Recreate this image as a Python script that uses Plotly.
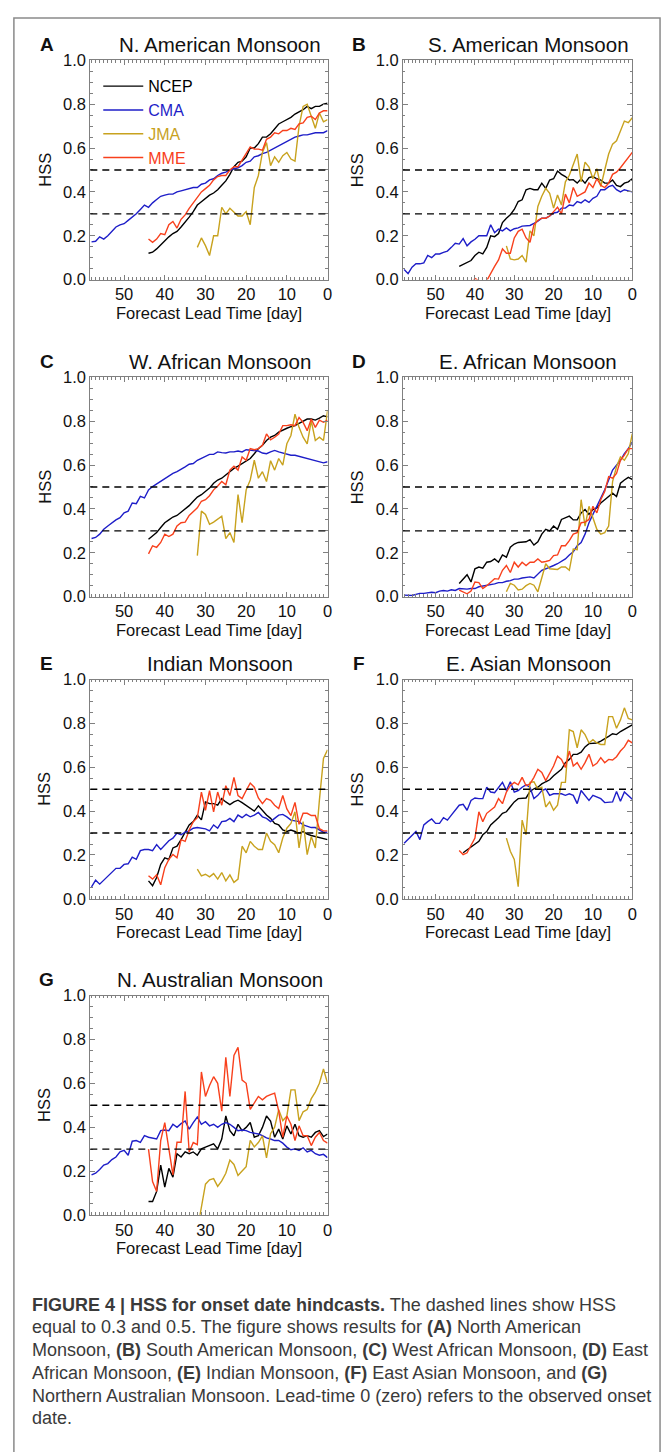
import plotly.graph_objects as go

W, H = 670, 1452

# HSS of onset-date hindcasts, listed from the longest lead (left) to lead 0 (right).
# CMA starts at lead 58, NCEP/MME at lead 44 (NCEP at 43 for E. Asia), JMA at lead 32.
NAM_NCEP = [0.12, 0.125, 0.14, 0.16, 0.18, 0.195, 0.21, 0.22, 0.24, 0.26, 0.285, 0.31, 0.34, 0.355, 0.37,
            0.385, 0.395, 0.41, 0.43, 0.45, 0.48, 0.515, 0.535, 0.54, 0.56, 0.60, 0.60, 0.62, 0.65, 0.65,
            0.665, 0.69, 0.71, 0.72, 0.73, 0.74, 0.755, 0.765, 0.775, 0.79, 0.78, 0.79, 0.79, 0.80, 0.805]
NAM_CMA = [0.172, 0.175, 0.195, 0.185, 0.20, 0.22, 0.24, 0.25, 0.255, 0.27, 0.285, 0.30, 0.32, 0.34, 0.33,
           0.35, 0.365, 0.38, 0.385, 0.39, 0.39, 0.40, 0.405, 0.41, 0.415, 0.42, 0.42, 0.435, 0.44, 0.455,
           0.46, 0.475, 0.485, 0.49, 0.50, 0.505, 0.51, 0.52, 0.535, 0.54, 0.56, 0.565, 0.575, 0.58, 0.59,
           0.60, 0.61, 0.62, 0.63, 0.64, 0.65, 0.655, 0.66, 0.66, 0.665, 0.67, 0.67, 0.67, 0.68]
NAM_JMA = [0.147, 0.19, 0.155, 0.11, 0.20, 0.20, 0.33, 0.30, 0.325, 0.305, 0.29, 0.29, 0.31, 0.25, 0.42,
           0.475, 0.58, 0.625, 0.52, 0.56, 0.535, 0.565, 0.58, 0.55, 0.54, 0.70, 0.79, 0.80, 0.74, 0.69,
           0.76, 0.72, 0.73]
NAM_MME = [0.185, 0.17, 0.185, 0.21, 0.205, 0.25, 0.265, 0.235, 0.275, 0.295, 0.325, 0.35, 0.38, 0.40,
           0.415, 0.43, 0.455, 0.47, 0.475, 0.475, 0.50, 0.515, 0.515, 0.545, 0.575, 0.605, 0.595, 0.595,
           0.59, 0.64, 0.65, 0.67, 0.665, 0.68, 0.68, 0.69, 0.685, 0.71, 0.715, 0.74, 0.745, 0.73, 0.76,
           0.77, 0.77]

SAM_NCEP = [0.06, 0.07, 0.08, 0.087, 0.11, 0.125, 0.117, 0.147, 0.20, 0.196, 0.21, 0.26, 0.28, 0.296, 0.32,
            0.356, 0.364, 0.41, 0.416, 0.41, 0.41, 0.44, 0.416, 0.454, 0.46, 0.495, 0.48, 0.47, 0.454,
            0.456, 0.44, 0.46, 0.44, 0.465, 0.47, 0.46, 0.454, 0.44, 0.44, 0.454, 0.43, 0.424, 0.44,
            0.446, 0.46]
SAM_CMA = [0.046, 0.027, 0.057, 0.072, 0.072, 0.076, 0.11, 0.10, 0.117, 0.117, 0.124, 0.13, 0.147, 0.166,
           0.162, 0.187, 0.154, 0.172, 0.184, 0.20, 0.20, 0.20, 0.25, 0.214, 0.23, 0.222, 0.236, 0.222,
           0.232, 0.236, 0.244, 0.244, 0.247, 0.256, 0.266, 0.28, 0.28, 0.29, 0.304, 0.307, 0.326, 0.326,
           0.34, 0.337, 0.356, 0.35, 0.364, 0.352, 0.371, 0.38, 0.41, 0.41, 0.424, 0.43, 0.41, 0.40, 0.41,
           0.405, 0.40]
SAM_JMA = [0.154, 0.094, 0.09, 0.094, 0.11, 0.08, 0.222, 0.20, 0.334, 0.38, 0.416, 0.394, 0.326, 0.386,
           0.34, 0.446, 0.476, 0.528, 0.573, 0.446, 0.536, 0.513, 0.46, 0.506, 0.424, 0.50, 0.573, 0.618,
           0.633, 0.678, 0.723, 0.716, 0.738]
SAM_MME = [-0.06, -0.05, -0.04, -0.02, 0.005, -0.005, -0.04, -0.005, 0.03, 0.06, 0.09, 0.14, 0.12, 0.12,
           0.19, 0.22, 0.23, 0.19, 0.17, 0.25, 0.27, 0.28, 0.28, 0.29, 0.31, 0.33, 0.30, 0.39, 0.35, 0.42,
           0.38, 0.39, 0.40, 0.44, 0.42, 0.46, 0.43, 0.42, 0.44, 0.48, 0.49, 0.51, 0.535, 0.555, 0.58]

WAF_NCEP = [0.262, 0.277, 0.292, 0.315, 0.337, 0.35, 0.363, 0.37, 0.385, 0.40, 0.415, 0.435, 0.454, 0.465,
            0.48, 0.495, 0.517, 0.532, 0.54, 0.555, 0.57, 0.585, 0.595, 0.607, 0.615, 0.63, 0.652, 0.675,
            0.69, 0.712, 0.727, 0.735, 0.75, 0.76, 0.768, 0.775, 0.78, 0.79, 0.80, 0.81, 0.81, 0.805,
            0.814, 0.825, 0.82]
WAF_CMA = [0.265, 0.27, 0.285, 0.307, 0.322, 0.337, 0.35, 0.36, 0.382, 0.39, 0.427, 0.424, 0.457, 0.45,
           0.487, 0.502, 0.514, 0.525, 0.535, 0.547, 0.562, 0.57, 0.58, 0.592, 0.604, 0.607, 0.622, 0.63,
           0.64, 0.649, 0.649, 0.66, 0.657, 0.655, 0.66, 0.66, 0.664, 0.66, 0.67, 0.667, 0.664, 0.664,
           0.655, 0.652, 0.66, 0.667, 0.66, 0.655, 0.649, 0.645, 0.645, 0.64, 0.634, 0.63, 0.625, 0.622,
           0.615, 0.61, 0.615]
WAF_JMA = [0.187, 0.39, 0.375, 0.33, 0.34, 0.352, 0.367, 0.265, 0.292, 0.247, 0.465, 0.337, 0.487, 0.532,
           0.622, 0.54, 0.57, 0.525, 0.62, 0.577, 0.63, 0.60, 0.697, 0.735, 0.832, 0.772, 0.727, 0.697,
           0.802, 0.712, 0.727, 0.712, 0.847]
WAF_MME = [0.195, 0.232, 0.225, 0.247, 0.285, 0.274, 0.285, 0.322, 0.337, 0.34, 0.37, 0.39, 0.405, 0.435,
           0.442, 0.46, 0.487, 0.505, 0.525, 0.51, 0.577, 0.595, 0.577, 0.637, 0.622, 0.675, 0.67, 0.675,
           0.69, 0.742, 0.715, 0.727, 0.742, 0.78, 0.78, 0.784, 0.78, 0.817, 0.795, 0.757, 0.81, 0.772,
           0.805, 0.795, 0.805]

EAF_NCEP = [0.06, 0.082, 0.10, 0.067, 0.127, 0.135, 0.13, 0.157, 0.16, 0.172, 0.157, 0.19, 0.18, 0.225,
            0.24, 0.247, 0.25, 0.25, 0.26, 0.235, 0.25, 0.285, 0.307, 0.30, 0.322, 0.307, 0.352, 0.36,
            0.367, 0.35, 0.35, 0.382, 0.397, 0.375, 0.397, 0.405, 0.427, 0.442, 0.457, 0.472, 0.457,
            0.517, 0.532, 0.544, 0.535]
EAF_CMA = [0.007, 0.007, 0.005, 0.01, 0.015, 0.015, 0.018, 0.02, 0.018, 0.025, 0.028, 0.025, 0.031, 0.028,
           0.037, 0.034, 0.034, 0.037, 0.037, 0.045, 0.048, 0.05, 0.055, 0.058, 0.064, 0.064, 0.07, 0.073,
           0.08, 0.08, 0.085, 0.088, 0.09, 0.085, 0.105, 0.12, 0.127, 0.133, 0.142, 0.15, 0.16, 0.172,
           0.19, 0.205, 0.232, 0.247, 0.285, 0.337, 0.375, 0.412, 0.45, 0.487, 0.532, 0.577, 0.60, 0.622,
           0.652, 0.675, 0.705]
EAF_JMA = [0.022, 0.06, 0.052, 0.03, 0.034, 0.05, 0.06, 0.052, 0.022, 0.082, 0.15, 0.127, 0.124, 0.124,
           0.135, 0.135, 0.12, 0.217, 0.214, 0.442, 0.322, 0.412, 0.36, 0.307, 0.285, 0.292, 0.322, 0.525,
           0.592, 0.637, 0.622, 0.652, 0.742]
EAF_MME = [0.03, 0.02, 0.013, 0.025, 0.067, 0.064, 0.037, 0.05, 0.064, 0.082, 0.08, 0.12, 0.142, 0.11,
           0.157, 0.135, 0.157, 0.142, 0.157, 0.157, 0.172, 0.157, 0.16, 0.165, 0.187, 0.19, 0.232, 0.232,
           0.255, 0.285, 0.292, 0.337, 0.34, 0.352, 0.412, 0.382, 0.442, 0.48, 0.547, 0.54, 0.562, 0.622,
           0.645, 0.675, 0.675]

IND_NCEP = [0.082, 0.06, 0.097, 0.157, 0.187, 0.18, 0.232, 0.24, 0.27, 0.307, 0.337, 0.352, 0.382, 0.36,
            0.442, 0.434, 0.434, 0.427, 0.457, 0.442, 0.43, 0.442, 0.45, 0.439, 0.427, 0.412, 0.40, 0.424,
            0.404, 0.382, 0.367, 0.344, 0.337, 0.314, 0.307, 0.314, 0.307, 0.30, 0.307, 0.295, 0.289,
            0.284, 0.28, 0.277, 0.27]
IND_CMA = [0.055, 0.085, 0.067, 0.085, 0.105, 0.12, 0.139, 0.139, 0.157, 0.16, 0.19, 0.18, 0.22, 0.225,
           0.225, 0.22, 0.247, 0.225, 0.247, 0.265, 0.277, 0.30, 0.292, 0.304, 0.31, 0.322, 0.325, 0.322,
           0.319, 0.31, 0.337, 0.322, 0.352, 0.355, 0.367, 0.352, 0.382, 0.37, 0.385, 0.374, 0.382, 0.394,
           0.374, 0.367, 0.352, 0.367, 0.382, 0.385, 0.374, 0.359, 0.355, 0.352, 0.337, 0.33, 0.325, 0.325,
           0.314, 0.304, 0.304]
IND_JMA = [0.135, 0.105, 0.112, 0.10, 0.115, 0.09, 0.12, 0.082, 0.109, 0.075, 0.09, 0.24, 0.21, 0.262,
           0.24, 0.225, 0.225, 0.30, 0.262, 0.247, 0.21, 0.277, 0.322, 0.344, 0.397, 0.232, 0.352, 0.202,
           0.284, 0.232, 0.45, 0.64, 0.68]
IND_MME = [0.105, 0.09, 0.11, 0.064, 0.142, 0.18, 0.202, 0.187, 0.27, 0.262, 0.314, 0.352, 0.37, 0.487,
           0.404, 0.494, 0.397, 0.487, 0.427, 0.516, 0.471, 0.554, 0.471, 0.457, 0.494, 0.528, 0.509, 0.46,
           0.434, 0.457, 0.449, 0.427, 0.412, 0.471, 0.41, 0.38, 0.44, 0.34, 0.39, 0.39, 0.38, 0.38, 0.32,
           0.31, 0.31]

EAS_NCEP = [0.21, 0.222, 0.235, 0.247, 0.262, 0.292, 0.307, 0.337, 0.352, 0.37, 0.39, 0.397, 0.42, 0.442,
            0.457, 0.457, 0.46, 0.49, 0.502, 0.509, 0.524, 0.534, 0.543, 0.561, 0.576, 0.591, 0.621, 0.636,
            0.659, 0.659, 0.669, 0.693, 0.708, 0.711, 0.711, 0.719, 0.729, 0.741, 0.753, 0.749, 0.763,
            0.774, 0.786, 0.793]
EAS_CMA = [0.254, 0.272, 0.292, 0.307, 0.27, 0.337, 0.352, 0.364, 0.344, 0.344, 0.37, 0.359, 0.382, 0.404,
           0.427, 0.431, 0.404, 0.449, 0.46, 0.457, 0.457, 0.509, 0.487, 0.484, 0.509, 0.531, 0.494, 0.534,
           0.487, 0.494, 0.509, 0.52, 0.509, 0.457, 0.472, 0.494, 0.501, 0.472, 0.479, 0.479, 0.479, 0.472,
           0.479, 0.472, 0.434, 0.494, 0.472, 0.449, 0.472, 0.464, 0.457, 0.439, 0.439, 0.442, 0.49, 0.445,
           0.487, 0.469, 0.454]
EAS_JMA = [0.277, 0.217, 0.18, 0.055, 0.359, 0.292, 0.531, 0.534, 0.501, 0.509, 0.419, 0.442, 0.404, 0.427,
           0.531, 0.531, 0.771, 0.763, 0.689, 0.771, 0.749, 0.711, 0.726, 0.711, 0.704, 0.704, 0.831, 0.831,
           0.778, 0.816, 0.871, 0.823, 0.816]
EAS_MME = [0.22, 0.202, 0.21, 0.247, 0.277, 0.397, 0.352, 0.39, 0.404, 0.419, 0.457, 0.434, 0.487, 0.516,
           0.531, 0.52, 0.554, 0.516, 0.524, 0.554, 0.591, 0.576, 0.539, 0.576, 0.606, 0.651, 0.636, 0.599,
           0.674, 0.606, 0.621, 0.591, 0.621, 0.659, 0.606, 0.618, 0.644, 0.621, 0.636, 0.633, 0.648, 0.674,
           0.693, 0.723, 0.711]

NAU_NCEP = [0.061, 0.061, 0.107, 0.227, 0.127, 0.212, 0.172, 0.279, 0.264, 0.287, 0.279, 0.287, 0.272,
            0.301, 0.309, 0.316, 0.324, 0.301, 0.346, 0.451, 0.384, 0.361, 0.413, 0.384, 0.399, 0.421,
            0.354, 0.361, 0.399, 0.451, 0.428, 0.354, 0.391, 0.346, 0.406, 0.369, 0.413, 0.361, 0.354,
            0.361, 0.354, 0.376, 0.384, 0.357, 0.369]
NAU_CMA = [0.182, 0.19, 0.207, 0.227, 0.234, 0.252, 0.264, 0.287, 0.294, 0.272, 0.336, 0.339, 0.331, 0.361,
           0.354, 0.351, 0.346, 0.384, 0.387, 0.384, 0.413, 0.399, 0.416, 0.428, 0.391, 0.421, 0.446, 0.413,
           0.425, 0.406, 0.413, 0.399, 0.413, 0.421, 0.413, 0.399, 0.384, 0.387, 0.384, 0.376, 0.372, 0.369,
           0.361, 0.351, 0.346, 0.339, 0.339, 0.327, 0.309, 0.297, 0.301, 0.294, 0.306, 0.287, 0.294, 0.279,
           0.272, 0.276, 0.261]
NAU_JMA = [-0.07, 0.03, 0.14, 0.16, 0.165, 0.13, 0.155, 0.19, 0.25, 0.23, 0.18, 0.20, 0.22, 0.34, 0.31,
           0.33, 0.36, 0.26, 0.37, 0.40, 0.48, 0.43, 0.45, 0.57, 0.57, 0.43, 0.47, 0.48, 0.53, 0.56, 0.60,
           0.665, 0.60]
NAU_MME = [0.30, 0.152, 0.107, 0.339, 0.421, 0.301, 0.182, 0.331, 0.331, 0.563, 0.287, 0.33, 0.32, 0.652,
           0.54, 0.59, 0.63, 0.60, 0.473, 0.719, 0.54, 0.727, 0.764, 0.615, 0.60, 0.481, 0.51, 0.54, 0.525,
           0.54, 0.548, 0.555, 0.473, 0.354, 0.451, 0.413, 0.339, 0.406, 0.361, 0.361, 0.316, 0.354, 0.376,
           0.339, 0.327]

MODELS = ["NCEP", "CMA", "JMA", "MME"]
MODEL_COLORS = {"NCEP": "#000000", "CMA": "#1e1ec8", "JMA": "#c8a21e", "MME": "#f8401c"}
THRESHOLDS = [0.3, 0.5]

PANELS = [
    ("A", "N. American Monsoon", [NAM_NCEP, NAM_CMA, NAM_JMA, NAM_MME]),
    ("B", "S. American Monsoon", [SAM_NCEP, SAM_CMA, SAM_JMA, SAM_MME]),
    ("C", "W. African Monsoon", [WAF_NCEP, WAF_CMA, WAF_JMA, WAF_MME]),
    ("D", "E. African Monsoon", [EAF_NCEP, EAF_CMA, EAF_JMA, EAF_MME]),
    ("E", "Indian Monsoon", [IND_NCEP, IND_CMA, IND_JMA, IND_MME]),
    ("F", "E. Asian Monsoon", [EAS_NCEP, EAS_CMA, EAS_JMA, EAS_MME]),
    ("G", "N. Australian Monsoon", [NAU_NCEP, NAU_CMA, NAU_JMA, NAU_MME]),
]

# panel frames in pixels: (left, right) per column, top per row
COLS = [(91, 330), (406, 637)]
ROW_TOPS = [52, 373, 679, 999]
PANEL_H = 222

FONT = "Liberation Sans, Arial, Helvetica, sans-serif"
AXIS_GRAY = "#808080"


def px_x(v):
    return v / W


def px_y(v):
    return 1 - v / H


fig = go.Figure()
layout = {}
annotations = []
shapes = []

for i, (letter, title, series) in enumerate(PANELS):
    col = i % 2
    row = i // 2
    x0, x1 = COLS[col]
    y0 = ROW_TOPS[row]
    y1 = y0 + PANEL_H
    n = i + 1
    xa = "xaxis" if n == 1 else f"xaxis{n}"
    ya = "yaxis" if n == 1 else f"yaxis{n}"
    xr = "x" if n == 1 else f"x{n}"
    yr = "y" if n == 1 else f"y{n}"

    layout[xa] = dict(
        domain=[px_x(x0), px_x(x1)], anchor=yr, range=[58.3, 0],
        tickmode="linear", tick0=0, dtick=10,
        ticks="inside", ticklen=5, tickwidth=1, tickcolor=AXIS_GRAY,
        showline=True, linecolor=AXIS_GRAY, linewidth=1, mirror="ticks",
        minor=dict(tick0=0, dtick=1, ticks="inside", ticklen=2.5, tickcolor=AXIS_GRAY),
        showgrid=False, zeroline=False,
        tickfont=dict(family=FONT, size=16.5, color="#111"),
    )
    layout[ya] = dict(
        domain=[px_y(y1), px_y(y0)], anchor=xr, range=[0, 1],
        tickmode="linear", tick0=0, dtick=0.2, tickformat=".1f",
        ticks="inside", ticklen=5, tickwidth=1, tickcolor=AXIS_GRAY,
        showline=True, linecolor=AXIS_GRAY, linewidth=1, mirror="ticks",
        minor=dict(tick0=0, dtick=0.05, ticks="inside", ticklen=2.5, tickcolor=AXIS_GRAY),
        showgrid=False, zeroline=False,
        tickfont=dict(family=FONT, size=16.5, color="#111"),
    )

    for model, vals in zip(MODELS, series):
        lead = list(range(len(vals) - 1, -1, -1))
        color = MODEL_COLORS[model]
        fig.add_trace(go.Scatter(
            x=lead, y=vals, mode="lines", xaxis=xr, yaxis=yr,
            line=dict(color=color, width=1.4),
            name=f"<span style='color:{color}'>{model}</span>",
            showlegend=(i == 0), hoverinfo="skip",
        ))

    for t in THRESHOLDS:
        shapes.append(dict(
            type="line", xref=f"{xr} domain", yref=yr, x0=0, x1=1, y0=t, y1=t,
            line=dict(color="#000", width=1.4, dash="7px,5px"),
        ))

    cx = x0 + (222 - 91) if col == 0 else x0 + (532 - 406)
    ty = y0 - 16
    annotations.append(dict(
        text=title, x=px_x(cx), y=px_y(ty), xref="paper", yref="paper",
        xanchor="center", yanchor="middle", showarrow=False,
        font=dict(family=FONT, size=20.5, color="#111"),
    ))
    annotations.append(dict(
        text=f"<b>{letter}</b>", x=px_x(x0 - 44), y=px_y(ty), xref="paper", yref="paper",
        xanchor="center", yanchor="middle", showarrow=False,
        font=dict(family=FONT, size=19, color="#111"),
    ))
    annotations.append(dict(
        text="HSS", x=px_x(x0 - 46), y=px_y((y0 + y1) / 2), xref="paper", yref="paper",
        xanchor="center", yanchor="middle", showarrow=False, textangle=-90,
        font=dict(family=FONT, size=16.5, color="#111"),
    ))
    annotations.append(dict(
        text="Forecast Lead Time [day]", x=px_x((x0 + x1) / 2), y=px_y(y1 + 34),
        xref="paper", yref="paper", xanchor="center", yanchor="middle", showarrow=False,
        font=dict(family=FONT, size=16.5, color="#111"),
    ))

# outer frame around the figure and caption
shapes.append(dict(
    type="rect", xref="paper", yref="paper",
    x0=px_x(14), x1=px_x(665), y0=px_y(1470), y1=px_y(9),
    line=dict(color="#8a8a8a", width=1.5), fillcolor="rgba(0,0,0,0)", layer="below",
))

CAPTION = [
    "<b>FIGURE 4 | HSS for onset date hindcasts.</b> The dashed lines show HSS",
    "equal to 0.3 and 0.5. The figure shows results for <b>(A)</b> North American",
    "Monsoon, <b>(B)</b> South American Monsoon, <b>(C)</b> West African Monsoon, <b>(D)</b> East",
    "African Monsoon, <b>(E)</b> Indian Monsoon, <b>(F)</b> East Asian Monsoon, and <b>(G)</b>",
    "Northern Australian Monsoon. Lead-time 0 (zero) refers to the observed onset",
    "date.",
]
for k, line in enumerate(CAPTION):
    annotations.append(dict(
        text=line, x=px_x(30), y=px_y(1312 + 23 * k), xref="paper", yref="paper",
        xanchor="left", yanchor="middle", showarrow=False,
        font=dict(family="Liberation Sans Narrow, Liberation Sans, Arial, sans-serif", size=18,
                  color="#3a3a3a"),
    ))

fig.update_layout(
    width=W, height=H, margin=dict(l=0, r=0, t=0, b=0),
    paper_bgcolor="white", plot_bgcolor="white",
    annotations=annotations, shapes=shapes,
    showlegend=True,
    legend=dict(
        x=px_x(99), y=px_y(61), xanchor="left", yanchor="top",
        bgcolor="rgba(0,0,0,0)", borderwidth=0, itemwidth=40,
        font=dict(family=FONT, size=16, color="#111"), tracegroupgap=0,
    ),
    **layout,
)

fig.write_html("out.html")
